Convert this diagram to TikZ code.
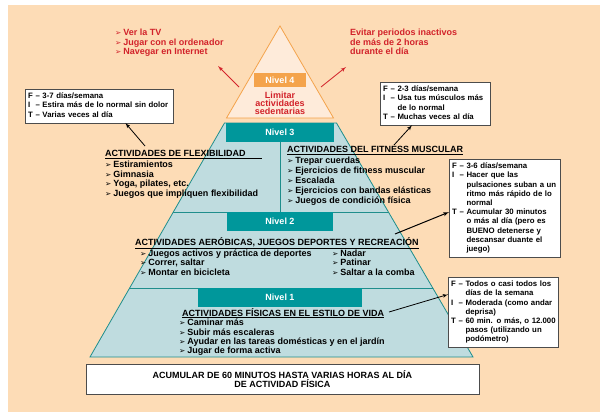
\documentclass[tikz,border=0pt]{standalone}
\usepackage{fontspec}
\setmainfont{Liberation Sans}
\newfontfamily\symfont{DejaVu Sans}
\usetikzlibrary{arrows}

\definecolor{fondo}{HTML}{FDDCB6}
\definecolor{fondoclaro}{HTML}{FEEBDA}
\definecolor{naranja}{HTML}{F4A34B}
\definecolor{verdeazul}{HTML}{00979B}
\definecolor{borde}{HTML}{1F8E8C}
\definecolor{celeste}{HTML}{BFDCDF}
\definecolor{rojo}{HTML}{D2222A}

\newcommand{\itm}{{\symfont\fontsize{7.5}{7.5}\selectfont\char"27A2}\hspace{2pt}}

\begin{document}
\begin{tikzpicture}[x=1pt,y=-1pt,>=latex',
  txt/.style={font=\bfseries\fontsize{9}{9.5}\selectfont,align=left,inner sep=0pt,anchor=base west},
  rtxt/.style={txt,text=rojo},
  nivel/.style={fill=verdeazul,text=white,font=\bfseries\fontsize{9}{9}\selectfont,inner sep=0pt,minimum height=19pt},
  fbox/.style={draw=black!70,fill=white,font=\bfseries\fontsize{7.8}{9.2}\selectfont,align=left,inner xsep=3pt,inner ysep=3pt,anchor=north west},
  arr/.style={->,thick},
  rarr/.style={->,rojo,thick}]
\useasboundingbox (0,0) rectangle (605,417);
\fill[fondo] (8,5) rectangle (600,412);

% piramide
\filldraw[fill=fondoclaro,draw=naranja,line width=0.8pt] (280,26) -- (226.5,118) -- (333.5,118) -- cycle;
\filldraw[fill=celeste,draw=borde,line width=0.8pt] (224.5,123) -- (90,357) -- (473,357) -- (336.5,123) -- cycle;
\begin{scope}
\clip (224.5,123) -- (90,357) -- (473,357) -- (336.5,123) -- cycle;
\draw[borde,line width=0.8pt] (0,212) -- (605,212) (0,288) -- (605,288);
\end{scope}

\node[nivel,fill=naranja,minimum width=52pt,minimum height=14pt](n4) at (280,80) {Nivel 4};
\node[nivel,minimum width=108pt](n3) at (280,132.5) {Nivel 3};
\node[nivel,minimum width=106pt](n2) at (280,221.5) {Nivel 2};
\node[nivel,minimum width=164pt](n1) at (280,297.5) {Nivel 1};
\draw[borde,line width=0.8pt] (n3.south) -- (n3.south |- 0,212);

% nivel 4 (base = ultima linea)
\node[rtxt] (tv) at (115,55) {\itm Ver la TV\\\itm Jugar con el ordenador\\\itm Navegar en Internet};
\node[rtxt] (evitar) at (350,55) {Evitar periodos inactivos\\de más de 2 horas\\durante el día};
\node[rtxt,align=center,anchor=base,font=\bfseries\fontsize{9}{8.4}\selectfont] (limitar) at (280,115) {Limitar\\actividades\\sedentarias};

% nivel 3
\node[txt] (flex) at (105,156.5) {\underline{ACTIVIDADES DE FLEXIBILIDAD\hspace{16pt}}};
\node[txt] (flexl) at (105,196) {\itm Estiramientos\\\itm Gimnasia\\\itm Yoga, pilates, etc.\\\itm Juegos que impliquen flexibilidad};
\node[txt] (fit) at (287,153) {\underline{ACTIVIDADES DEL FITNESS MUSCULAR}};
\node[txt,font=\bfseries\fontsize{9}{10}\selectfont] (fitl) at (287,203.5) {\itm Trepar cuerdas\\\itm Ejercicios de fitness muscular\\\itm Escalada\\\itm Ejercicios con bandas elásticas\\\itm Juegos de condición física};

% nivel 2
\node[txt] (aero) at (135,245) {\underline{ACTIVIDADES AERÓBICAS, JUEGOS DEPORTES Y RECREACIÓN}};
\node[txt] (aerol) at (140,275) {\itm Juegos activos y práctica de deportes\\\itm Correr, saltar\\\itm Montar en bicicleta};
\node[txt] (aeror) at (332,275) {\itm Nadar\\\itm Patinar\\\itm Saltar a la comba};

% nivel 1
\node[txt] (vida) at (182,316) {\underline{ACTIVIDADES FÍSICAS EN EL ESTILO DE VIDA}};
\node[txt,font=\bfseries\fontsize{9}{9.2}\selectfont] (vidal) at (179,353.5) {\itm Caminar más\\\itm Subir más escaleras\\\itm Ayudar en las tareas domésticas y en el jardín\\\itm Jugar de forma activa};

% cuadros FIT
\node[fbox,text width=142pt] (boxA) at (25,89) {\begin{tabular}{@{}l@{ }l@{ }l@{}}F&--&3-7 días/semana\\I&--&Estira más de lo normal sin dolor\\T&--&Varias veces al día\end{tabular}};
\node[fbox,text width=104pt] (boxB) at (380,82) {\begin{tabular}{@{}l@{ }l@{ }l@{}}F&--&2-3 días/semana\\I&--&Usa tus músculos más\\&&de lo normal\\T&--&Muchas veces al día\end{tabular}};
\node[fbox,text width=105pt] (boxC) at (449,159) {\begin{tabular}{@{}l@{ }l@{ }l@{}}F&--&3-6 días/semana\\I&--&Hacer que las\\&&pulsaciones suban a un\\&&ritmo más rápido de lo\\&&normal\\T&--&Acumular 30 minutos\\&&o más al día (pero es\\&&BUENO detenerse y\\&&descansar duante el\\&&juego)\end{tabular}};
\node[fbox,text width=104pt] (boxD) at (448,277) {\begin{tabular}{@{}l@{ }l@{ }l@{}}F&--&Todos o casi todos los\\&&días de la semana\\I&--&Moderada (como andar\\&&deprisa)\\T&--&60 min. o más, o 12.000\\&&pasos (utilizando un\\&&podómetro)\end{tabular}};

\node[draw=black!70,line width=0.8pt,fill=white,minimum width=393pt,minimum height=30pt,align=center,font=\bfseries\fontsize{9}{9}\selectfont] (total) at (282.5,379) {ACUMULAR DE 60 MINUTOS HASTA VARIAS HORAS AL DÍA\\DE ACTIVIDAD FÍSICA};

% flechas
\coordinate (r1) at (239,87);
\coordinate (r2) at (218,66);
\coordinate (r3) at (321,87);
\coordinate (r4) at (346,67);
\draw[rarr] (r1) -- (r2);
\draw[rarr] (r3) -- (r4);
\coordinate (a3) at (145,146);
\coordinate (b3) at (394,145);
\coordinate (c2) at (395,234);
\coordinate (d1) at (389,312);
\draw[arr] (a3) -- (boxA.-33);
\draw[arr] (b3) -- (boxB.-137);
\draw[arr,line width=1pt] (c2) -- (boxC.-176);
\draw[arr] (d1) -- (boxD.162);
\end{tikzpicture}
\end{document}
